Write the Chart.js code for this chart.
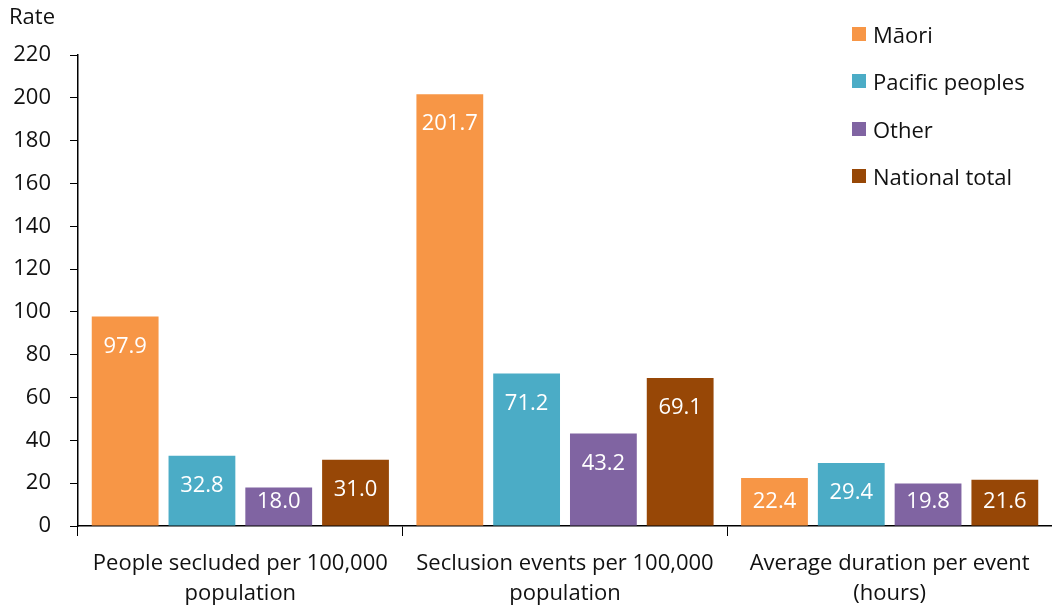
<!DOCTYPE html>
<html lang="en">
<head>
    <meta charset="UTF-8">
    <title>Seclusion rates</title>
    <script src="https://cdn.jsdelivr.net/npm/chart.js"></script>
    <style>
        html, body { margin: 0; padding: 0; background: #fff; }
        #wrap { position: relative; width: 1052px; height: 607px; }
        #legend { position: absolute; left: 852px; top: 10px; font-family: "Open Sans", sans-serif; font-size: 22px; color: #111; }
        #legend div { display: flex; align-items: center; height: 47.5px; }
        #legend span.box { display: inline-block; width: 14px; height: 14px; margin-right: 7px; }
    </style>
</head>
<body>
    <div id="wrap">
        <canvas id="myChart" width="1052" height="607"></canvas>
        <div id="legend"></div>
    </div>

    <script>
        const categories = [
            ["People secluded per 100,000", "population"],
            ["Seclusion events per 100,000", "population"],
            ["Average duration per event", "(hours)"]
        ];
        const seriesNames = ["Māori", "Pacific peoples", "Other", "National total"];
        const seriesColors = ["#F79646", "#4BACC6", "#8064A2", "#974706"];
        const maori = [97.9, 201.7, 22.4];
        const pacific = [32.8, 71.2, 29.4];
        const other = [18.0, 43.2, 19.8];
        const national = [31.0, 69.1, 21.6];
        const seriesValues = [maori, pacific, other, national];

        const FONT = '"Open Sans", sans-serif';

        // white value labels inside the bar ends
        const barLabels = {
            id: 'barLabels',
            afterDatasetsDraw(chart) {
                const ctx = chart.ctx;
                ctx.save();
                ctx.font = '22px ' + FONT;
                ctx.fillStyle = '#fff';
                ctx.textAlign = 'center';
                ctx.textBaseline = 'middle';
                chart.data.datasets.forEach((ds, i) => {
                    chart.getDatasetMeta(i).data.forEach((bar, j) => {
                        const y = Math.min(bar.y + 30, bar.base - 24);
                        ctx.fillText(ds.data[j].toFixed(1), bar.x, y);
                    });
                });
                ctx.restore();
            }
        };

        // "Rate" axis caption top left
        const rateTitle = {
            id: 'rateTitle',
            afterDraw(chart) {
                const ctx = chart.ctx;
                ctx.save();
                ctx.font = '22px ' + FONT;
                ctx.fillStyle = '#111';
                ctx.textBaseline = 'middle';
                ctx.fillText('Rate', 9, 18);
                ctx.restore();
            }
        };

        const ctx = document.getElementById('myChart').getContext('2d');
        const myChart = new Chart(ctx, {
            type: 'bar',
            data: {
                labels: categories,
                datasets: seriesNames.map((name, i) => ({
                    label: name,
                    data: seriesValues[i],
                    backgroundColor: seriesColors[i],
                    categoryPercentage: 0.946,
                    barPercentage: 0.87
                }))
            },
            options: {
                responsive: false,
                animation: false,
                layout: { padding: { top: 55, right: 0, left: 0, bottom: 0 } },
                plugins: {
                    legend: { display: false },
                    tooltip: { enabled: false }
                },
                scales: {
                    y: {
                        min: 0,
                        max: 220,
                        ticks: {
                            stepSize: 20,
                            color: '#111',
                            font: { family: FONT, size: 22 },
                            padding: 19
                        },
                        grid: {
                            drawOnChartArea: false,
                            color: '#000',
                            tickLength: 8
                        },
                        border: { color: '#000', width: 1.5 },
                        afterFit(scale) { scale.width = 78; }
                    },
                    x: {
                        ticks: {
                            color: '#111',
                            font: { family: FONT, size: 22, lineHeight: 1.36 },
                            padding: 13,
                            maxRotation: 0,
                            autoSkip: false
                        },
                        grid: {
                            drawOnChartArea: false,
                            color: '#000',
                            tickLength: 10,
                            offset: true
                        },
                        border: { color: '#000', width: 1.5 },
                        afterFit(scale) { scale.height = 81; }
                    }
                }
            },
            plugins: [barLabels, rateTitle]
        });

        // legend as html, to the top right over the plot
        const legend = document.getElementById('legend');
        seriesNames.forEach((name, i) => {
            const row = document.createElement('div');
            row.innerHTML = '<span class="box" style="background:' + seriesColors[i] + '"></span>' + name;
            legend.appendChild(row);
        });
    </script>
</body>
</html>
